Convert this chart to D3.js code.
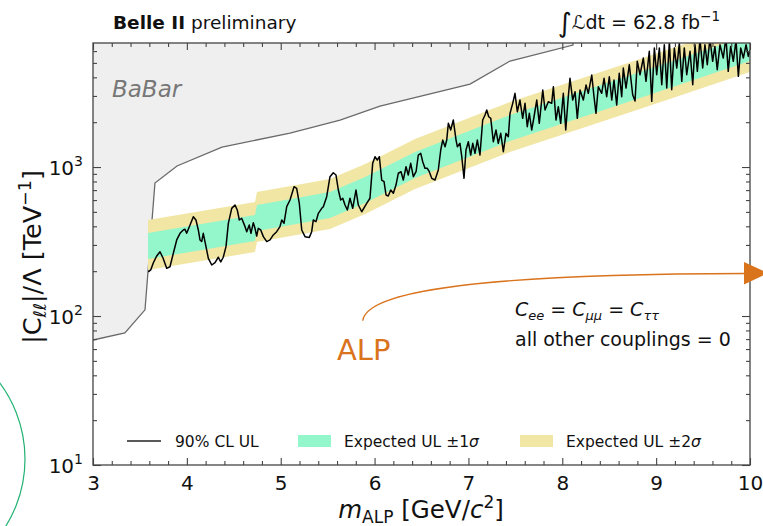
<!DOCTYPE html>
<html><head><meta charset="utf-8">
<script src="https://cdn.jsdelivr.net/npm/d3@7"></script>
<style>body{margin:0;background:#fff}svg{display:block}text{font-family:"DejaVu Sans",sans-serif}</style>
</head><body><svg id="c" width="763" height="526"></svg>
<script>
// ---------- data ----------
const xDomain = [3, 10];
const yDomain = [10, 6800];
const xMajorTicks = [3, 4, 5, 6, 7, 8, 9, 10];
const yMajorTicks = [10, 100, 1000];

const babarMass = [3.0, 3.34, 3.554, 3.66, 3.895, 4.374, 5.099, 5.632, 6.058, 7.017, 7.443, 8.114, 8.114];
const babarUL   = [69, 77, 110, 781, 1016, 1361, 1691, 2067, 2567, 3606, 5145, 6589, 6800];

const massExp = [3.586, 4.726, 4.747, 5.525, 5.900, 6.431, 7.443, 8.828, 10.0];
const exp2Hi  = [441, 582, 680, 831, 1048, 1541, 2731, 5307, 9404];
const exp1Hi  = [361, 476, 556, 679, 857, 1260, 2233, 4338, 7686];
const exp1Lo  = [241, 319, 372, 455, 574, 844, 1495, 2905, 5147];
const exp2Lo  = [204, 269, 314, 384, 484, 712, 1261, 2450, 4341];

const massObs = [3.589,3.615,3.642,3.679,3.714,3.746,3.785,3.820,3.856,3.892,
3.927,3.962,3.980,3.998,4.034,4.069,4.097,4.122,4.140,4.158,
4.175,4.193,4.229,4.265,4.300,4.335,4.361,4.388,4.417,4.442,
4.478,4.513,4.537,4.559,4.584,4.620,4.638,4.665,4.683,4.708,
4.726,4.744,4.761,4.787,4.815,4.851,4.886,4.921,4.957,4.992,
5.011,5.035,5.064,5.099,5.142,5.170,5.198,5.224,5.259,5.305,
5.330,5.347,5.376,5.401,5.437,5.454,5.490,5.525,5.560,5.589,
5.614,5.639,5.661,5.685,5.710,5.738,5.767,5.802,5.827,5.863,
5.916,5.951,5.980,6.005,6.029,6.051,6.076,6.101,6.122,6.146,
6.172,6.200,6.228,6.253,6.282,6.306,6.335,6.359,6.385,6.413,
6.442,6.466,6.492,6.513,6.537,6.562,6.583,6.609,6.644,6.679,
6.705,6.726,6.751,6.769,6.786,6.811,6.839,6.868,6.882,6.910,
6.929,6.953,6.974,6.999,7.024,7.046,7.070,7.095,7.123,7.152,
7.177,7.195,7.216,7.238,7.265,7.294,7.318,7.344,7.372,7.400,
7.425,7.443,7.472,7.496,7.521,7.549,7.578,7.603,7.627,7.649,
7.674,7.699,7.728,7.755,7.792,7.816,7.851,7.887,7.905,7.933,
7.958,7.983,8.011,8.037,8.064,8.082,8.111,8.136,8.160,8.189,
8.224,8.253,8.277,8.314,8.338,8.359,8.384,8.420,8.445,8.473,
8.501,8.527,8.551,8.580,8.607,8.633,8.650,8.679,8.714,8.750,
8.775,8.799,8.828,8.863,8.892,8.927,8.953,8.981,9.006,9.034,
9.060,9.087,9.113,9.141,9.166,9.194,9.220,9.247,9.273,9.300,
9.326,9.361,9.390,9.414,9.439,9.467,9.496,9.520,9.545,9.573,
9.602,9.626,9.651,9.680,9.715,9.744,9.768,9.794,9.822,9.851,
9.876,9.901,9.929,9.958,9.982,10.0];
const ulObs = [198,204,227,253,270,245,209,214,264,324,
359,378,382,359,408,464,441,378,324,316,
359,316,244,220,228,248,231,248,292,419,
528,556,515,441,453,398,368,408,359,423,
388,344,388,378,341,316,324,350,368,398,
441,419,542,601,738,720,571,378,341,337,
368,441,430,489,528,542,632,861,916,884,
701,601,617,556,515,617,528,701,556,501,
571,617,1059,1173,1114,1173,818,797,649,639,
701,666,757,908,930,818,1004,884,1059,861,
930,1204,1236,1085,980,980,930,840,818,955,
1301,1518,1369,1518,1964,1772,2067,1518,1369,1443,
1173,840,1301,1479,1204,1443,1236,1518,1204,2067,
2233,2413,2175,2122,1479,1772,1443,1684,1267,1684,
1598,2293,2676,3124,2350,2816,2122,2676,1864,2293,
1772,2175,2816,1964,3287,2413,2743,2676,3459,2067,
2539,1964,3124,1772,2964,3938,2816,3202,2122,3287,
2816,3551,3124,4144,2964,2293,3459,3124,3938,2964,
4037,2816,3836,2606,4254,2964,4618,3390,4858,3056,
2773,5121,4162,5389,3760,5978,2760,6290,4162,6290,
3566,6617,3390,6975,3302,6290,4618,6794,3760,6290,
4162,5978,3566,6617,4388,7200,4618,6617,4858,7300,
5121,6453,4498,6617,5389,7400,4388,6453,5121,7100,
4061,6290,5389,6617,5530,6099];

const legendLabels = ["90% CL UL", "Expected UL \u00b11", "Expected UL \u00b12"];

// ---------- layout ----------
const X0 = 93, X1 = 750, Y0 = 43, Y1 = 465;
const AX = "#444";
const C1 = "#94f7cc", C2 = "#f1e6a4", ORANGE = "#d9731c";
const svg = d3.select("#c");
const x = d3.scaleLinear().domain(xDomain).range([X0, X1]);
const y = d3.scaleLog().domain(yDomain).range([Y1, Y0]);

svg.append("defs").append("clipPath").attr("id", "clip")
  .append("rect").attr("x", X0).attr("y", Y0).attr("width", X1 - X0).attr("height", Y1 - Y0);
const plot = svg.append("g").attr("clip-path", "url(#clip)");

// BaBar excluded region
const babar = d3.zip(babarMass, babarUL);
plot.append("path").datum(babar)
  .attr("d", d3.area().x(d => x(d[0])).y0(y(yDomain[1]) - 5).y1(d => y(d[1])))
  .attr("fill", "#efefef");
plot.append("path").datum(babar)
  .attr("d", d3.line().x(d => x(d[0])).y(d => y(d[1])))
  .attr("fill", "none").attr("stroke", "#6a6a6a").attr("stroke-width", 1.3);

// expected bands
const band = massExp.map((m, i) => ({m, a: exp2Lo[i], b: exp2Hi[i], c: exp1Lo[i], d: exp1Hi[i]}));
plot.append("path").datum(band)
  .attr("d", d3.area().x(d => x(d.m)).y0(d => y(d.a)).y1(d => y(d.b))).attr("fill", C2);
plot.append("path").datum(band)
  .attr("d", d3.area().x(d => x(d.m)).y0(d => y(d.c)).y1(d => y(d.d))).attr("fill", C1);

// observed
const obs = d3.zip(massObs, ulObs);
plot.append("path").datum(obs)
  .attr("d", d3.line().x(d => x(d[0])).y(d => y(d[1])))
  .attr("fill", "none").attr("stroke", "#000").attr("stroke-width", 1.5).attr("stroke-linejoin", "round");

// axes
const xMinor = d3.range(3, 10.001, 0.2).filter(v => Math.abs(v - Math.round(v)) > 0.01);
const yMinor = [];
[10, 100, 1000].forEach(dec => { for (let k = 2; k <= 9; k++) if (k * dec < yDomain[1]) yMinor.push(k * dec); });

function styleAxis(g) {
  g.select(".domain").remove();
  g.selectAll(".tick line").attr("stroke", AX).attr("stroke-width", 1.1);
  g.selectAll(".tick text").attr("fill", "#111").attr("font-family", "DejaVu Sans");
}
const gxb = svg.append("g").attr("transform", `translate(0,${Y1})`)
  .call(d3.axisBottom(x).tickValues(xMajorTicks).tickSize(-7).tickPadding(11).tickFormat(d3.format("d")));
styleAxis(gxb); gxb.selectAll(".tick text").attr("font-size", 20);
svg.append("g").attr("transform", `translate(0,${Y1})`)
  .call(d3.axisBottom(x).tickValues(xMinor).tickSize(-4).tickFormat("")).call(styleAxis);
svg.append("g").attr("transform", `translate(0,${Y0})`)
  .call(d3.axisTop(x).tickValues(xMajorTicks).tickSize(-7).tickFormat("")).call(styleAxis);
svg.append("g").attr("transform", `translate(0,${Y0})`)
  .call(d3.axisTop(x).tickValues(xMinor).tickSize(-4).tickFormat("")).call(styleAxis);

const gyl = svg.append("g").attr("transform", `translate(${X0},0)`)
  .call(d3.axisLeft(y).tickValues(yMajorTicks).tickSize(-8).tickPadding(10).tickFormat(() => ""));
styleAxis(gyl);
gyl.selectAll(".tick text").each(function(d) {
  const t = d3.select(this).attr("font-size", 20).attr("dy", "0.36em");
  t.append("tspan").text("10");
  t.append("tspan").attr("font-size", 14).attr("dy", -9).text(Math.round(Math.log10(d)));
});
svg.append("g").attr("transform", `translate(${X0},0)`)
  .call(d3.axisLeft(y).tickValues(yMinor).tickSize(-4).tickFormat("")).call(styleAxis);
svg.append("g").attr("transform", `translate(${X1},0)`)
  .call(d3.axisRight(y).tickValues(yMajorTicks).tickSize(-8).tickFormat("")).call(styleAxis);
svg.append("g").attr("transform", `translate(${X1},0)`)
  .call(d3.axisRight(y).tickValues(yMinor).tickSize(-4).tickFormat("")).call(styleAxis);

// frame
svg.append("rect").attr("x", X0).attr("y", Y0).attr("width", X1 - X0).attr("height", Y1 - Y0)
  .attr("fill", "none").attr("stroke", AX).attr("stroke-width", 1.3);

// BaBar label
svg.append("text").attr("x", 112).attr("y", 97).attr("font-size", 23).attr("font-style", "italic")
  .attr("fill", "#777").text("BaBar");

// axis labels
const xl = svg.append("text").attr("x", 421).attr("y", 518).attr("text-anchor", "middle")
  .attr("font-size", 24.5).attr("fill", "#111");
xl.append("tspan").attr("font-style", "italic").text("m");
xl.append("tspan").attr("font-size", 17).attr("dy", 5).text("ALP");
xl.append("tspan").attr("dy", -5).text(" [GeV/");
xl.append("tspan").attr("font-style", "italic").text("c");
xl.append("tspan").attr("font-size", 17).attr("dy", -10).text("2");
xl.append("tspan").attr("dy", 10).text("]");

const yl = svg.append("text").attr("transform", "translate(41,257) rotate(-90)")
  .attr("text-anchor", "middle").attr("font-size", 25.5).attr("fill", "#111");
yl.append("tspan").text("|C");
yl.append("tspan").attr("font-style", "italic").attr("font-size", 17.5).attr("dy", 5).text("\u2113\u2113");
yl.append("tspan").attr("dy", -5).text("|/\u039b [TeV");
yl.append("tspan").attr("font-size", 17.5).attr("dy", -10).text("\u22121");
yl.append("tspan").attr("dy", 10).text("]");

// header
const tt = svg.append("text").attr("x", 113).attr("y", 29).attr("font-size", 18.5).attr("fill", "#111");
tt.append("tspan").attr("font-weight", "bold").text("Belle II");
tt.append("tspan").text(" preliminary");
const lt = svg.append("text").attr("x", 720).attr("y", 29).attr("text-anchor", "end").attr("font-size", 19).attr("fill", "#111");
lt.append("tspan").attr("font-size", 27).attr("dy", 3).text("\u222b");
lt.append("tspan").attr("dy", -3).attr("font-style", "italic").text("\u2112");
lt.append("tspan").text("dt = 62.8 fb");
lt.append("tspan").attr("font-size", 13.5).attr("dy", -8).text("\u22121");

// legend
const ly = 441;
svg.append("line").attr("x1", 127).attr("x2", 161).attr("y1", ly).attr("y2", ly).attr("stroke", "#222").attr("stroke-width", 1.3);
svg.append("rect").attr("x", 298).attr("y", ly - 6).attr("width", 33).attr("height", 12).attr("fill", C1);
svg.append("rect").attr("x", 520).attr("y", ly - 6).attr("width", 33).attr("height", 12).attr("fill", C2);
const lgx = [175, 344, 566];
legendLabels.forEach((s, i) => {
  const t = svg.append("text").attr("x", lgx[i]).attr("y", ly + 6).attr("font-size", 15.5).attr("fill", "#111").text(s);
  if (i > 0) t.append("tspan").attr("font-style", "italic").text("\u03c3");
});

// couplings text
const ct = svg.append("text").attr("x", 515).attr("y", 316).attr("font-size", 19).attr("fill", "#111");
const sub = (txt) => { ct.append("tspan").attr("font-style", "italic").attr("font-size", 13).attr("dy", 4).text(txt); };
ct.append("tspan").attr("font-style", "italic").text("C"); sub("ee");
ct.append("tspan").attr("dy", -4).text(" = ");
ct.append("tspan").attr("font-style", "italic").text("C"); sub("\u03bc\u03bc");
ct.append("tspan").attr("dy", -4).text(" = ");
ct.append("tspan").attr("font-style", "italic").text("C"); sub("\u03c4\u03c4");
svg.append("text").attr("x", 515).attr("y", 346).attr("font-size", 19).attr("fill", "#111").text("all other couplings = 0");

// ALP annotation
svg.append("path").attr("d", "M362.7,320.7 C366,292 470,274 746,273.5")
  .attr("fill", "none").attr("stroke", ORANGE).attr("stroke-width", 1.3);
svg.append("path").attr("d", "M744,262 L768,273 L744,284.5 Z").attr("fill", ORANGE);
svg.append("text").attr("x", 337).attr("y", 360).attr("font-size", 29).attr("fill", ORANGE).text("ALP");

// decorative green arc
svg.append("circle").attr("cx", -102).attr("cy", 459).attr("r", 127)
  .attr("fill", "none").attr("stroke", "#22b273").attr("stroke-width", 1.2);
</script></body></html>
